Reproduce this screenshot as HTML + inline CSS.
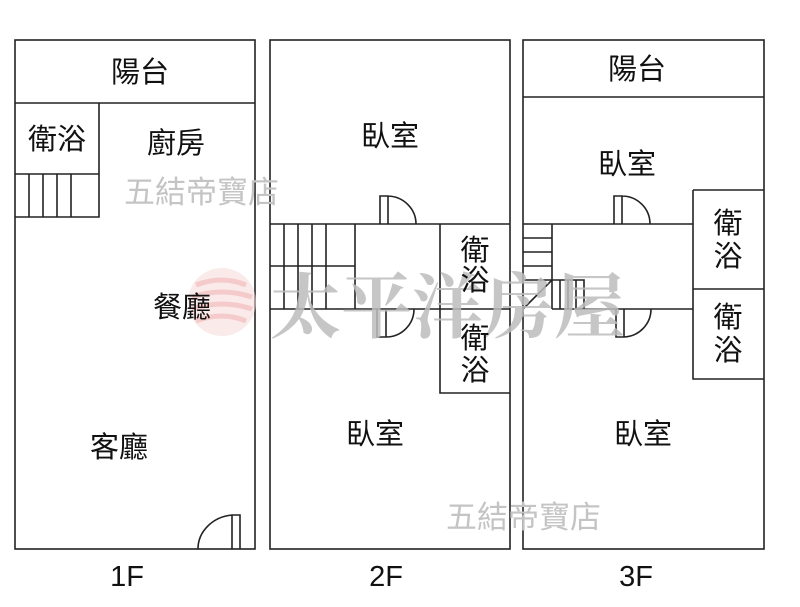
<!DOCTYPE html>
<html><head><meta charset="utf-8"><style>
body{margin:0;background:#fff}
svg{display:block}
text{font-family:"Liberation Sans","Noto Sans CJK TC",sans-serif}
</style></head><body>
<svg width="800" height="607" viewBox="0 0 800 607" xmlns="http://www.w3.org/2000/svg">
<g fill="none" stroke="#222" stroke-width="1.6">
<rect x="15" y="40" width="240" height="509"/>
<line x1="15" y1="103" x2="255" y2="103"/>
<path d="M99 103V217H15M15 174H99M29 174V217M43 174V217M57 174V217M71 174V217"/>
<path d="M232 549V515h8v34M232 515A38 34 0 0 0 198 549"/>
<rect x="270" y="40" width="240" height="509"/>
<path d="M270 224H510M270 309H440M355 224V309M270 266H355M284 224V309M298 224V309M312 224V309M326 224V309"/>
<path d="M440 224V393H510M440 309H510"/>
<path d="M380 224V196h8v28M388 196A29 28 0 0 1 416 224"/>
<path d="M377 309V337h9v-28M386 337A28 28 0 0 0 414 309"/>
<rect x="523" y="40" width="241" height="509"/>
<line x1="523" y1="97" x2="764" y2="97"/>
<path d="M523 224H693M584 309H693M552 224V309M523 238H552M523 252H552M523 266H552M523 280H552"/>
<path d="M523 309L552 280H584V309H552M560 280V309M568 280V309M576 280V309"/>
<path d="M693 190H764M693 190V379H764M693 289H764"/>
<path d="M614 224V196h8v28M622 196A28 28 0 0 1 650 224"/>
<path d="M616 309V337h8v-28M624 337A28 28 0 0 0 651 309"/>
</g>
<g opacity="0.55" fill="none" stroke="#eda0a0" stroke-width="5">
<circle cx="222" cy="302" r="34" fill="#f7dada" stroke="none"/>
<path d="M196 285q26-10 50 0M192 297q30-10 60 0M192 309q30-10 60 0M196 321q26-10 50 0"/>
</g>
<g fill="#c4c4c4" font-size="31">
<text x="124" y="203">五結帝寶店</text>
<text x="446" y="528">五結帝寶店</text>
</g>
<text x="270" y="332" font-size="71" font-weight="bold" fill="#bdbdbd" opacity="0.85" style="font-family:'Noto Serif CJK SC',serif" textLength="355" lengthAdjust="spacingAndGlyphs">太平洋房屋</text>
<g fill="#111" font-size="29" text-anchor="middle">
<text x="140" y="82">陽台</text>
<text x="57" y="149">衛浴</text>
<text x="176" y="153">廚房</text>
<text x="182" y="317">餐廳</text>
<text x="119" y="457">客廳</text>
<text x="390" y="146">臥室</text>
<text x="475" y="260">衛</text>
<text x="475" y="290">浴</text>
<text x="475" y="348">衛</text>
<text x="475" y="380">浴</text>
<text x="375" y="444">臥室</text>
<text x="637" y="79">陽台</text>
<text x="627" y="174">臥室</text>
<text x="728" y="233">衛</text>
<text x="728" y="266">浴</text>
<text x="728" y="327">衛</text>
<text x="728" y="360">浴</text>
<text x="643" y="444">臥室</text>
<text x="127" y="586">1F</text>
<text x="386" y="586">2F</text>
<text x="636" y="586">3F</text>
</g>
</svg>
</body></html>
